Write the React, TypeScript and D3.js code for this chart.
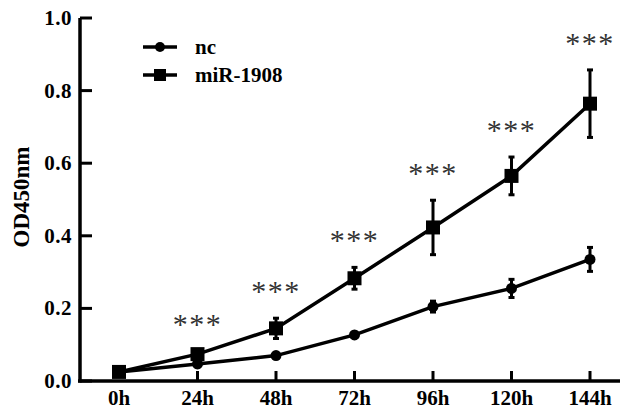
import React from 'react'
import * as d3 from 'd3'

const hours = ['0h', '24h', '48h', '72h', '96h', '120h', '144h']
const ncMean = [0.025, 0.047, 0.07, 0.127, 0.205, 0.255, 0.335]
const ncErr = [0.006, 0.008, 0.008, 0.007, 0.015, 0.025, 0.033]
const mirMean = [0.025, 0.074, 0.145, 0.283, 0.423, 0.565, 0.764]
const mirErr = [0.006, 0.01, 0.028, 0.03, 0.075, 0.052, 0.093]
const starred = [false, true, true, true, true, true, true]
const yTicks = [0, 0.2, 0.4, 0.6, 0.8, 1.0]

const W = 626
const H = 410
const font = '"Liberation Serif", "Times New Roman", serif'

export default function App() {
  const x = d3.scalePoint<string>().domain(hours).range([119, 590])
  const y = d3.scaleLinear().domain([0, 1]).range([381, 18])
  const line = d3.line<number>().x((_, i) => x(hours[i])!).y(d => y(d))

  const errBars = (mean: number[], err: number[], key: string) =>
    mean.map((m, i) => {
      const cx = x(hours[i])!
      return (
        <g key={key + i} stroke="#000" strokeWidth={3}>
          <line x1={cx} x2={cx} y1={y(m - err[i])} y2={y(m + err[i])} />
          <line x1={cx - 3} x2={cx + 3} y1={y(m - err[i])} y2={y(m - err[i])} />
          <line x1={cx - 3} x2={cx + 3} y1={y(m + err[i])} y2={y(m + err[i])} />
        </g>
      )
    })

  return (
    <svg width={W} height={H} style={{ position: 'absolute', left: 0, top: 0, background: '#fff' }} fontFamily={font}>
      {/* axes */}
      <line x1={80} x2={80} y1={y(1)} y2={y(0) + 1.5} stroke="#000" strokeWidth={3.5} />
      <line x1={78} x2={620} y1={y(0)} y2={y(0)} stroke="#000" strokeWidth={3.5} />
      {yTicks.map(t => (
        <g key={'yt' + t}>
          <line x1={80} x2={92} y1={y(t)} y2={y(t)} stroke="#000" strokeWidth={3} />
          <text x={72} y={y(t) + 7} textAnchor="end" fontSize={21} fontWeight="bold" letterSpacing={0.5}>{t.toFixed(1)}</text>
        </g>
      ))}
      {hours.map(h => (
        <g key={'xt' + h}>
          {h !== '0h' && <line x1={x(h)} x2={x(h)} y1={y(0)} y2={y(0) - 10} stroke="#000" strokeWidth={3} />}
          <text x={x(h)} y={405} textAnchor="middle" fontSize={21} fontWeight="bold">{h}</text>
        </g>
      ))}
      <text transform={`translate(29,197) rotate(-90)`} textAnchor="middle" fontSize={23} fontWeight="bold">OD450nm</text>

      {/* nc */}
      <path d={line(ncMean)!} fill="none" stroke="#000" strokeWidth={3.5} />
      {errBars(ncMean, ncErr, 'nce')}
      {ncMean.map((m, i) => (
        <circle key={'ncp' + i} cx={x(hours[i])} cy={y(m)} r={5.5} fill="#000" />
      ))}

      {/* miR-1908 */}
      <path d={line(mirMean)!} fill="none" stroke="#000" strokeWidth={3.5} />
      {errBars(mirMean, mirErr, 'mire')}
      {mirMean.map((m, i) => (
        <rect key={'mirp' + i} x={x(hours[i])! - 7} y={y(m) - 7} width={14} height={14} fill="#000" />
      ))}

      {/* significance */}
      {starred.map((s, i) =>
        s ? (
          <text key={'st' + i} x={x(hours[i])} y={y(mirMean[i] + mirErr[i]) - 17} textAnchor="middle"
            fontSize={30} fill="#333" letterSpacing={1.5}>***</text>
        ) : null
      )}

      {/* legend */}
      <g>
        <line x1={143} x2={177} y1={47} y2={47} stroke="#000" strokeWidth={3.5} />
        <circle cx={160} cy={47} r={5} fill="#000" />
        <text x={195} y={54} fontSize={21} fontWeight="bold">nc</text>
        <line x1={143} x2={177} y1={75} y2={75} stroke="#000" strokeWidth={3.5} />
        <rect x={154} y={69} width={12} height={12} fill="#000" />
        <text x={195} y={82} fontSize={21} fontWeight="bold">miR-1908</text>
      </g>
    </svg>
  )
}
